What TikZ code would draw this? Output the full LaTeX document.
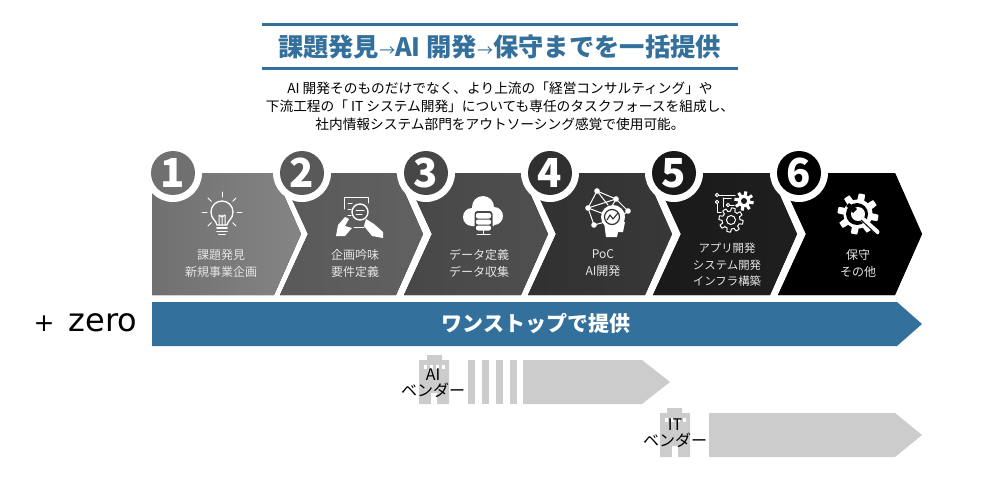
\documentclass[tikz,border=0pt]{standalone}
\usepackage{fontspec}
\setmainfont{Noto Sans CJK JP}
\newfontfamily\zerofont{DejaVu Sans}
\usepackage{tikz}
\usetikzlibrary{arrows.meta,positioning,calc}

\definecolor{barblue}{HTML}{34709C}
\definecolor{vendorgray}{HTML}{CCCCCC}

\newcommand{\gearplot}[3]{plot[domain=0:360,samples=145] (\x:{#1+#2*max(-1,min(1,3*sin(#3*\x)))}) -- cycle}

\tikzset{
    steplabel/.style={text=white!90!black, align=center, font=\fontsize{12}{17}\selectfont},
    stepnum/.style={circle, minimum size=44pt, inner sep=0pt, text=white, font=\fontsize{40}{40}\selectfont\bfseries},
    vendorlabel/.style={text=black, align=center, font=\fontsize{16}{16}\selectfont},
    iconline/.style={draw=white, line width=1pt, line cap=round, line join=round},
}

\begin{document}
\begin{tikzpicture}[x=1pt, y=-1pt]
    \useasboundingbox (0,0) rectangle (1000,500);

    % Title
    \fill[barblue] (262,23.5) rectangle (738,26.5);
    \fill[barblue] (262,67) rectangle (738,70);
    \node[text=barblue, font=\fontsize{25.3}{25.3}\selectfont\bfseries] (title) at (499.5,47)
        {課題発見{\normalfont\fontsize{16}{16}\selectfont→}AI 開発{\normalfont\fontsize{16}{16}\selectfont→}保守までを一括提供};
    \node[align=center, font=\fontsize{13.7}{18}\selectfont] (intro) at (500,106)
        {AI 開発そのものだけでなく、より上流の「経営コンサルティング」や\\
         下流工程の「 IT システム開発」についても専任のタスクフォースを組成し、\\
         社内情報システム部門をアウトソーシング感覚で使用可能。};

    % Chevrons
    \fill[left color=black!56, right color=black!48] (152,173) -- (274,173) -- (301,234) -- (274,295) -- (152,295) -- cycle;
    \foreach \lft/\tip/\cola/\colb in {280/423/black!65/black!62, 404/548/black!72/black!69, 528/672/black!81/black!78, 653/797/black!90/black!88, 778/922/black/black} {
        \fill[left color=\cola, right color=\colb] (\lft,173) -- ({\tip-27},173) -- (\tip,234) -- ({\tip-27},295) -- (\lft,295) -- ({\lft+28},234) -- cycle;
    }

    % Number discs
    \foreach \i/\cx/\col in {1/173/black!56, 2/302/black!65, 3/426/black!72, 4/550/black!81, 5/674/black!90, 6/799/black} {
        \fill[white] (\cx,173) circle[radius=29pt];
        \node[stepnum, fill=\col] (num\i) at (\cx,173) {\i};
    }

    % Step labels
    \node[steplabel] (label1) at (221,263.5) {課題発見\\新規事業企画};
    \node[steplabel] (label2) at (355,263.5) {企画吟味\\要件定義};
    \node[steplabel] (label3) at (479,263.5) {データ定義\\データ収集};
    \node[steplabel] (label4) at (603,263.5) {PoC\\AI開発};
    \node[steplabel, font=\fontsize{11.4}{16.5}\selectfont] (label5) at (727,265) {アプリ開発\\システム開発\\インフラ構築};
    \node[steplabel] (label6) at (858,263.5) {保守\\その他};

    % Icon 1: light bulb
    \begin{scope}[shift={(222,214)}]
        \draw[iconline, line width=1.3pt] (-5,11) .. controls (-6,6) and (-11,5) .. (-11,-2) arc[start angle=180, end angle=360, radius=11] .. controls (11,5) and (6,6) .. (5,11) -- cycle;
        \draw[iconline] (-3,11) -- (-3,1) (3,11) -- (3,1) (0,11) -- (0,1) (-3,1) -- (0,3) -- (3,1);
        \draw[iconline, line width=1.6pt] (-5,14) -- (5,14) (-5,17.5) -- (5,17.5) (-3,20.5) -- (3,20.5);
        \foreach \ang in {0,45,135,180,225,315,270} {
            \draw[iconline] (0,-2) ++(\ang:15) -- ++(\ang:5);
        }
    \end{scope}

    % Icon 2: document and magnifier
    \draw[iconline] (344,209) -- (344,197) -- (368,197) -- (368,203) (354,227) -- (364,227);
    \draw[iconline] (348,203) -- (352,203) (348,209) -- (351,209) (348,215) -- (351,215);
    \draw[iconline, line width=1.4pt, fill=black!65] (360,212) circle[radius=8pt];
    \draw[iconline] (356,210) -- (364,210) (356,214) -- (362,214);
    \fill[white] (336,236) -- (338,225) -- (345,217) -- (349,219) -- (345,226) -- (352,228) -- (345,236) -- cycle;
    \fill[white] (366,219) -- (374,224) -- (383,232) -- (383,238) -- (372,236) -- (364,226) -- cycle;

    % Icon 3: cloud and database
    \fill[white] (472,217) circle[radius=9pt] (483,207) circle[radius=11pt] (494,216) circle[radius=9pt] (472,214) rectangle (494,226);
    \fill[black!72, rounded corners=3pt] (474.5,211) rectangle (492.5,232);
    \fill[white, rounded corners=2pt] (476,213) rectangle (491,218.5) (476,219.5) rectangle (491,224.5) (476,225.5) rectangle (491,230.5);
    \draw[iconline] (483.5,230) -- (483.5,234.5) (477,234.5) -- (490,234.5);

    % Icon 4: head with network
    \draw[iconline] (616,199) -- (628,211) -- (622,216) (597,191) -- (616,199) -- (588,208) -- (597,191) (597,191) -- (608,205) (588,208) -- (594,225) -- (605,222) (588,208) -- (604,214) (616,199) -- (612,206);
    \foreach \px/\py in {597/191, 616/199, 628/211, 588/208, 594/225} {
        \fill[white] (\px,\py) circle[radius=2.8pt];
    }
    \fill[white] (613,217) circle[radius=12pt] (604,222) -- (606,237) -- (617,237) -- (618,232) -- (623,232) -- (625,222) -- cycle;
    \draw[draw=black!81, line width=1.2pt] (612,217) circle[radius=7.5pt];
    \draw[draw=black!81, line width=1.1pt, line join=round] (607,220) -- (610,215) -- (613,219) -- (618,213);

    % Icon 5: gears and circuit
    \fill[white, shift={(744,201)}] \gearplot{8}{1.8}{8};
    \fill[black!90] (744,201) circle[radius=3pt];
    \draw[iconline, shift={(731,220)}] \gearplot{10.5}{1.6}{8};
    \draw[iconline] (731,220) circle[radius=4.5pt];
    \draw[iconline] (719,195) -- (735,195) (717,204) -- (717,212) -- (721,212) (723,198) -- (731,198) (723,198) -- (723,207) (730,205) -- (734,205);
    \foreach \px/\py in {717/195, 717/202, 728/205} {
        \draw[iconline] (\px,\py) circle[radius=1.7pt];
    }

    % Icon 6: gear and wrench
    \fill[white, shift={(858,214)}] \gearplot{17.5}{3}{8};
    \fill[black] (857,214) circle[radius=11pt];
    \draw[white, line width=5pt, line cap=round] (859,216) -- (877,232);
    \fill[white] (858,214) circle[radius=7pt];
    \fill[black] (849,203) -- (857,209) -- (853,213) -- (846,206) -- cycle;
    \draw[black, line width=1pt] (861,220) -- (878,236);

    % Main bar
    \fill[barblue] (152,302) -- (897,302) -- (922,324) -- (897,346) -- (152,346) -- cycle;
    \node[text=white, font=\fontsize{21}{21}\selectfont\bfseries] (barlabel) at (536,323) {ワンストップで提供};
    \node[font=\fontsize{32}{32}\selectfont\zerofont] (zero) at (85.5,323) {{\fontsize{25}{25}\selectfont +}\hspace{0.45em}zero};

    % AI vendor
    \foreach \sx in {468,482,496,510} {
        \fill[vendorgray] (\sx,360) rectangle ++(7,44);
    }
    \fill[vendorgray] (523,360) -- (642,360) -- (670,382) -- (642,404) -- (523,404) -- cycle;
    \fill[vendorgray] (427,355) rectangle (442,360) (419,360) rectangle (449,404);
    \fill[white] (431,393) rectangle (437,404);
    \foreach \wx in {424,430,436,442} {
        \fill[white] (\wx,365) rectangle ++(3,4);
    }
    \node[vendorlabel] (aivendor) at (433,383) {AI\\ベンダー};

    % IT vendor
    \fill[vendorgray] (709,413) -- (895,413) -- (922,435) -- (895,457) -- (709,457) -- cycle;
    \fill[vendorgray] (667,408) rectangle (682,413) (660,413) rectangle (690,457);
    \fill[white] (672,446) rectangle (678,457);
    \foreach \wx in {665,671,677,683} {
        \fill[white] (\wx,418) rectangle ++(3,4);
    }
    \node[vendorlabel] (itvendor) at (675,433.5) {IT\\ベンダー};
\end{tikzpicture}
\end{document}
